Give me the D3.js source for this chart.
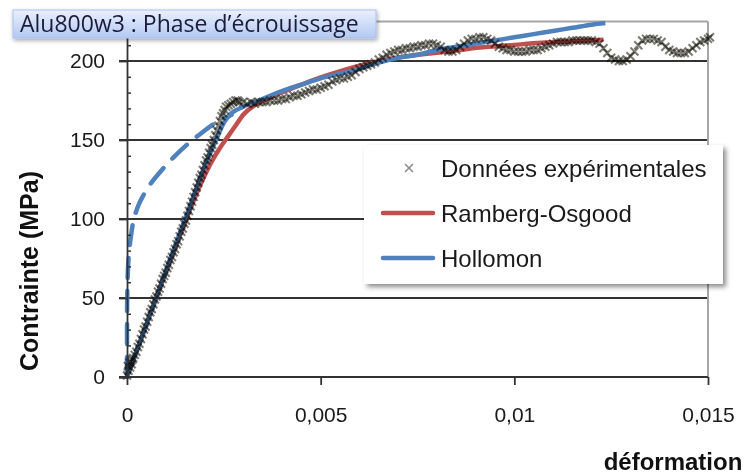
<!DOCTYPE html>
<html><head><meta charset="utf-8">
<script src="https://cdn.jsdelivr.net/npm/d3@7"></script>
<style>body{margin:0;background:#fff}svg{display:block}</style>
</head><body>
<svg id="chart" width="750" height="475"></svg>
<script>
const chartTitle = "Alu800w3 : Phase d’écrouissage";
const xTitle = "déformation";
const yTitle = "Contrainte (MPa)";
const xTicks = [0, 0.005, 0.01, 0.015];
const xTickLabels = ["0", "0,005", "0,01", "0,015"];
const yTicks = [0, 50, 100, 150, 200];
const yMinorTicks = [10,20,30,40,60,70,80,90,110,120,130,140,160,170,180,190,210,220];
const seriesNames = ["Données expérimentales", "Ramberg-Osgood", "Hollomon"];

const experimental = [
 [0,1],[0.00002,7],[0.00004,4],[0.00006,9],[0.00008,6],[0.00010,10],[0.00012,8],[0.00014,11],[0.00016,12],
 [0.00020,14],[0.00024,16],[0.00028,19],[0.00032,21],[0.00036,24],[0.00040,27],[0.00044,30],[0.00048,32],
 [0.00052,35],[0.00056,38],[0.00060,41],[0.00064,43],[0.00068,46],[0.00072,49],[0.00076,51],[0.00080,54],
 [0.00084,56],[0.00088,59],[0.00092,62],[0.00096,64],[0.00100,66],[0.00104,69],[0.00108,71],[0.00112,74],
 [0.00116,76],[0.00120,79],[0.00124,81],[0.00128,84],[0.00132,86],[0.00136,89],[0.00140,92],[0.00144,94],
 [0.00148,97],[0.00152,99],[0.00156,102],[0.00160,105],[0.00164,108],[0.00168,111],[0.00172,114],[0.00176,117],
 [0.00180,120],[0.00184,123],[0.00188,126],[0.00192,128],[0.00196,131],[0.00200,134],[0.00204,137],[0.00208,139],
 [0.00212,142],[0.00216,145],[0.00220,147],[0.00224,150],[0.00228,153],[0.00232,156],[0.00236,159],[0.00240,162],
 [0.00244,165],[0.00248,167],[0.00252,169],[0.00256,171],[0.00262,172],[0.00268,173],[0.00274,174],[0.00280,175],
 [0.00286,175],[0.0029,174],[0.0030,174],[0.0031,173],[0.0032,174],[0.0033,173],[0.0034,174],[0.0035,174],
 [0.0036,174],[0.0037,175],[0.0038,175],[0.0039,175],[0.0040,176],[0.0041,176],[0.0042,177],[0.0043,178],
 [0.0044,178],[0.0045,179],[0.0046,180],[0.0047,181],[0.0048,182],[0.0049,182],[0.0050,183],[0.0051,184],
 [0.0052,185],[0.0053,187],[0.0054,188],[0.0055,189],[0.0056,189],[0.0057,190],[0.0058,191],[0.0059,193],
 [0.0060,195],[0.0061,196],[0.0062,197],[0.0063,198],[0.0064,199],[0.0065,201],[0.0066,202],[0.0067,204],
 [0.0068,205],[0.0069,206],[0.0070,207],[0.0071,207],[0.0072,208],[0.0073,208],[0.0074,209],[0.0075,209],
 [0.0076,210],[0.0077,210],[0.0078,211],[0.0079,211],[0.0080,210],[0.0081,209],[0.0082,207],[0.0083,206],
 [0.0084,206],[0.0085,207],[0.0086,209],[0.0087,211],[0.0088,213],[0.0089,214],[0.0090,214],[0.0091,215],
 [0.0092,215],[0.0093,214],[0.0094,213],[0.0095,211],[0.0096,209],[0.0097,208],[0.0098,207],[0.0099,207],
 [0.0100,206],[0.0101,206],[0.0102,206],[0.0103,206],[0.0104,207],[0.0105,207],[0.0106,207],[0.0107,208],
 [0.0108,209],[0.0109,210],[0.0110,211],[0.0111,212],[0.0112,212],[0.0113,212],[0.0114,212],[0.0115,213],
 [0.0116,213],[0.0117,213],[0.0118,213],[0.0119,213],[0.0120,213],[0.0121,212],[0.0122,211],[0.0123,208],
 [0.0124,205],[0.0125,202],[0.0126,201],[0.0127,200],[0.0128,200],[0.0129,201],[0.0130,203],[0.0131,206],
 [0.0132,210],[0.0133,213],[0.0134,214],[0.0135,214],[0.0136,214],[0.0137,213],[0.0138,212],[0.0139,209],
 [0.0140,207],[0.0141,206],[0.0142,205],[0.0143,205],[0.0144,205],[0.0145,206],[0.0146,208],[0.0147,210],
 [0.0148,212],[0.0149,213],[0.0150,214],[0.01505,215]
];

const rambergOsgood = [
 [0,0],[0.0005,33],[0.0010,66],[0.0015,98],[0.0019,122],[0.0022,137],[0.0024,145],[0.0026,152],[0.0028,159],
 [0.0030,166],[0.0033,172],[0.0037,177],[0.0042,182],[0.0047,187],[0.0053,192],[0.0060,197],[0.0067,201],
 [0.0075,204],[0.0083,206],[0.0091,208.5],[0.0099,210],[0.0107,211.5],[0.0115,212.5],[0.0123,213.5]
];

const hollomon = [
 [0,0],[0.0005,33],[0.0010,67],[0.0015,100],[0.0020,133],[0.00235,153],[0.0025,161],[0.0027,167],[0.0030,171],
 [0.0034,175],[0.0040,181],[0.0045,185],[0.0050,189],[0.0055,192],[0.0060,195],[0.0065,199],[0.0070,202],
 [0.0075,204],[0.0080,207],[0.0085,209],[0.0090,211],[0.0095,213],[0.0100,215],[0.0105,217],[0.0110,219],
 [0.0115,221],[0.0120,223],[0.01235,224]
];

const hollomonLowStrain = [
 [0,0],[0.000001,37],[0.00001,57],[0.00005,78],[0.0001,89],[0.0002,102],[0.0003,109],[0.0004,114],
 [0.0006,122],[0.0009,131],[0.0012,139],[0.0015,146],[0.0019,154],[0.0023,161],[0.0027,166]
];

const svg = d3.select("#chart");
const defs = svg.append("defs");
const sh = defs.append("filter").attr("id","shadow").attr("x","-10%").attr("y","-10%").attr("width","130%").attr("height","140%");
sh.append("feDropShadow").attr("dx",3).attr("dy",3).attr("stdDeviation",2.5).attr("flood-color","#000").attr("flood-opacity",0.45);
const sh2 = defs.append("filter").attr("id","shadow2").attr("x","-10%").attr("y","-20%").attr("width","130%").attr("height","160%");
sh2.append("feDropShadow").attr("dx",1).attr("dy",2).attr("stdDeviation",2).attr("flood-color","#000").attr("flood-opacity",0.35);
const grad = defs.append("linearGradient").attr("id","tgrad").attr("x1",0).attr("y1",0).attr("x2",0).attr("y2",1);
grad.append("stop").attr("offset","0%").attr("stop-color","#eaf0fd");
grad.append("stop").attr("offset","100%").attr("stop-color","#b3c9f2");

const x = d3.scaleLinear().domain([0, 0.015]).range([127, 708]);
const y = d3.scaleLinear().domain([0, 225]).range([377, 21.5]);

const FONT = "'Liberation Sans', Arial, sans-serif";

// gridlines
svg.append("g").selectAll("line").data(yTicks.filter(d => d > 0)).join("line")
  .attr("x1", 119).attr("x2", x(0.015)).attr("y1", d => y(d)).attr("y2", d => y(d))
  .attr("stroke", "#333").attr("stroke-width", 1.8);
// plot border top/right
svg.append("line").attr("x1", x(0)).attr("x2", x(0.015)).attr("y1", y(225)).attr("y2", y(225))
  .attr("stroke", "#a6a6a6").attr("stroke-width", 2);
svg.append("line").attr("x1", x(0.015)).attr("x2", x(0.015)).attr("y1", y(225)).attr("y2", y(0))
  .attr("stroke", "#a6a6a6").attr("stroke-width", 2);

// lines
const line = d3.line().x(d => x(d[0])).y(d => y(d[1])).curve(d3.curveMonotoneX);
svg.append("path").datum(hollomonLowStrain).attr("d", d3.line().x(d => x(d[0])).y(d => y(d[1])).curve(d3.curveMonotoneY))
  .attr("fill","none").attr("stroke","#4f81bd").attr("stroke-width",4.5)
  .attr("stroke-dasharray","20,13").attr("stroke-linecap","round");
svg.append("path").datum(rambergOsgood).attr("d", line)
  .attr("fill","none").attr("stroke","#c0504d").attr("stroke-width",4.5).attr("stroke-linejoin","round");
svg.append("path").datum(hollomon).attr("d", line)
  .attr("fill","none").attr("stroke","#4f81bd").attr("stroke-width",4.5).attr("stroke-linejoin","round");

// experimental markers
const m = 4;
const mk = svg.append("g");
mk.selectAll("path").data(experimental).join("path")
  .attr("d", d => { const cx = x(d[0]), cy = y(d[1]);
    return `M${cx-m},${cy-m}L${cx+m},${cy+m}M${cx-m},${cy+m}L${cx+m},${cy-m}`; })
  .attr("stroke","#6f6f66").attr("stroke-width",2.1).attr("fill","none").attr("stroke-opacity",0.9)
  .style("mix-blend-mode","multiply");

// axes
const yAxis = svg.append("g").attr("transform", `translate(${x(0)},0)`)
  .call(d3.axisLeft(y).tickValues(yTicks).tickSize(8).tickPadding(14).tickFormat(d3.format("d")));
yAxis.select(".domain").attr("stroke","#333").attr("stroke-width",1.8);
yAxis.selectAll(".tick line").attr("stroke","#333").attr("stroke-width",1.8);
yAxis.selectAll("text").attr("font-family",FONT).attr("font-size",21).attr("fill","#1a1a1a");
const yMinor = svg.append("g").attr("transform", `translate(${x(0)},0)`)
  .call(d3.axisRight(y).tickValues(yMinorTicks).tickSize(4).tickFormat(""));
yMinor.select(".domain").remove();
yMinor.selectAll(".tick line").attr("stroke","#333").attr("stroke-width",1.5);

const xAxis = svg.append("g").attr("transform", `translate(0,${y(0)})`)
  .call(d3.axisBottom(x).tickValues(xTicks).tickSize(8).tickPadding(22).tickFormat((d,i) => xTickLabels[i]));
xAxis.select(".domain").remove();
xAxis.selectAll(".tick line").attr("stroke","#333").attr("stroke-width",1.8);
xAxis.selectAll("text").attr("font-family",FONT).attr("font-size",21).attr("fill","#1a1a1a");
svg.append("line").attr("x1",119).attr("x2",x(0.015)).attr("y1",y(0)).attr("y2",y(0))
  .attr("stroke","#333").attr("stroke-width",1.8);

// axis titles
svg.append("text").attr("x",673).attr("y",470).attr("text-anchor","middle")
  .attr("font-family",FONT).attr("font-weight","bold").attr("font-size",24).attr("fill","#111").text(xTitle);
svg.append("text").attr("transform","translate(38,271) rotate(-90)").attr("text-anchor","middle")
  .attr("font-family",FONT).attr("font-weight","bold").attr("font-size",25).attr("fill","#111").text(yTitle);

// legend
const lg = svg.append("g");
lg.append("rect").attr("x",364).attr("y",145).attr("width",359).attr("height",139)
  .attr("fill","#fff").attr("filter","url(#shadow)");
const lgY = [168, 213, 258];
lg.append("path").attr("d",`M${409-4},${lgY[0]-4}L${409+4},${lgY[0]+4}M${409-4},${lgY[0]+4}L${409+4},${lgY[0]-4}`)
  .attr("stroke","#8c8c8c").attr("stroke-width",1.6);
lg.append("line").attr("x1",383).attr("x2",433).attr("y1",lgY[1]).attr("y2",lgY[1])
  .attr("stroke","#c0504d").attr("stroke-width",4.5).attr("stroke-linecap","round");
lg.append("line").attr("x1",383).attr("x2",433).attr("y1",lgY[2]).attr("y2",lgY[2])
  .attr("stroke","#4f81bd").attr("stroke-width",4.5).attr("stroke-linecap","round");
lg.selectAll("text").data(seriesNames).join("text")
  .attr("x",441).attr("y",(d,i) => lgY[i] + 9)
  .attr("font-family",FONT).attr("font-size",24).attr("fill","#1a1a1a").text(d => d);

// title box
svg.append("rect").attr("x",13).attr("y",10).attr("width",363).attr("height",28)
  .attr("fill","url(#tgrad)").attr("stroke","#a9c1ee").attr("stroke-width",1).attr("filter","url(#shadow2)");
svg.append("text").attr("x",20).attr("y",32).attr("font-family","'Open Sans', sans-serif")
  .attr("font-size",23).attr("fill","#1b1b3a").text(chartTitle);
</script>
</body></html>
